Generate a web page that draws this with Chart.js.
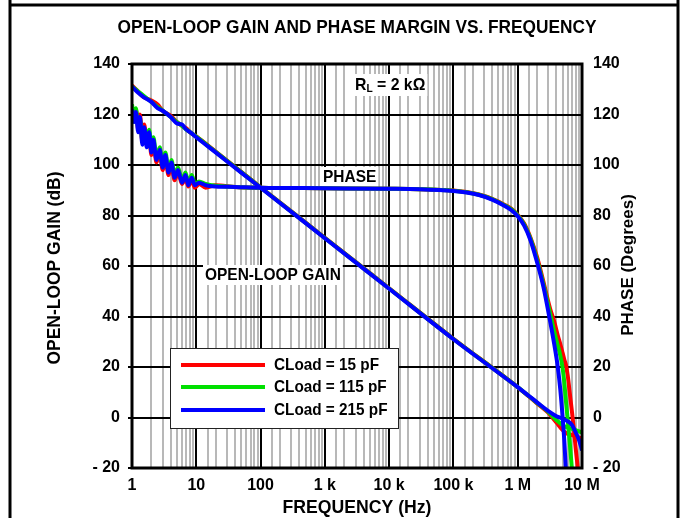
<!DOCTYPE html>
<html>
<head>
<meta charset="utf-8">
<script src="https://cdn.jsdelivr.net/npm/chart.js@4.4.1/dist/chart.umd.min.js"></script>
<style>
  html, body { margin: 0; padding: 0; background: #fff; }
  canvas { display: block; }
</style>
</head>
<body>
<canvas id="gainChart" width="685" height="518"></canvas>
<script>
// ---- DATA ----
const seriesLabels = ['CLoad = 15 pF', 'CLoad = 115 pF', 'CLoad = 215 pF'];
const seriesColors = ['#ff0000', '#00e000', '#0000ff'];

const xTickLabels = ['1', '10', '100', '1 k', '10 k', '100 k', '1 M', '10 M'];
const yTickValues = [-20, 0, 20, 40, 60, 80, 100, 120, 140];

// open-loop gain (dB)
const gainFreq = [1, 1.2, 1.5, 2, 2.5, 3, 4, 5, 6, 7, 8, 10, 20, 50, 100, 1e3, 1e4, 1e5, 1e6,
                  1.5e6, 2e6, 3e6, 4e6, 5e6, 6e6, 7e6, 8e6, 9e6, 1e7];
const gain15 = [131.5, 129.5, 127, 125.5, 124, 121.5, 119.5, 117, 115.5, 114.5, 113, 111.3, 105.3, 97.3, 91.2, 71.2, 51.2, 31.2, 12,
                8.3, 5.6, 1.8, -2, -5, -6.5, -7, -7.5, -8, -8.5];
const gain115 = [131, 129.5, 127.5, 125, 123, 121.5, 119, 117, 115.5, 114, 113, 111.2, 105.2, 97.2, 91.1, 71.1, 51.1, 31.1, 12,
                 8.4, 5.8, 2.2, -1, -3, -4, -4.5, -5, -5.5, -6];
const gain215 = [131, 129, 127, 125, 122.5, 121.5, 119, 116.5, 116, 114, 113, 111, 105, 97, 91, 71, 51, 31, 12,
                 8.5, 6, 2.5, 0.5, -0.5, -1.5, -3, -6, -9, -13];

// phase (degrees)
const phaseFreq = [1, 1.08, 1.15, 1.25, 1.33, 1.45, 1.55, 1.7, 1.85, 2, 2.15, 2.4, 2.7, 3, 3.3, 3.7, 4.1, 4.6, 5.2, 6,
                   6.8, 7.5, 8.5, 9.5, 11, 14, 20, 40, 100, 1e3, 1e4, 3e4, 1e5, 1.6e5, 2.5e5, 4e5, 6.3e5, 8e5, 1e6,
                   1.26e6, 1.58e6, 2e6, 2.5e6, 3.2e6, 3.7e6, 4.2e6, 4.6e6, 5e6, 5.3e6, 5.6e6, 6e6, 6.5e6, 7e6,
                   7.5e6, 8e6, 8.6e6, 9.2e6, 1e7];
const phase15 = [123, 119, 122, 114, 120, 109, 116, 108, 112, 104, 109, 101, 105, 98, 103, 96, 100, 94, 97, 92.5,
                 95, 91.5, 94, 91, 92.5, 91, 92, 91.3, 91, 90.8, 90.6, 90.4, 89.9, 89.3, 88.3, 86.6, 84.2, 82.6, 80.3,
                 76.8, 71.2, 63.5, 54, 43, 38, 32.5, 29, 25.5, 23, 21, 16.5, 9, 2, -5, -12.5, -20, -28, -40];
const phase115 = [124, 118, 122.5, 115, 118, 110, 114, 109, 114, 106, 111, 103, 107, 100, 105, 98, 102, 96, 99, 94,
                  97, 93, 96, 92.5, 93.5, 92.5, 91.8, 91.3, 91, 90.8, 90.6, 90.4, 89.8, 89.2, 88.2, 86.5, 84, 82.4, 80,
                  76.5, 70.8, 62.5, 53, 41, 34, 28.5, 24.5, 19.5, 14, 7, -1, -11, -21, -31, -42, -55, -70, -90];
const phase215 = [122, 117, 121, 113, 119, 108, 115, 107, 113, 105, 110, 102, 106, 99, 104, 97, 101, 95, 98, 93,
                  96, 92, 95, 92, 93, 92, 91.5, 91.3, 91, 90.8, 90.6, 90.4, 89.7, 89.1, 88.1, 86.3, 83.8, 82.1, 79.7,
                  76, 70.2, 61.5, 52, 38, 29, 20, 11, 0, -9, -20, -32, -45, -58, -70, -80, -90, -100, -110];

const gainSets = [gain15, gain115, gain215];
const phaseSets = [phase15, phase115, phase215];

// ---- STYLE ----
const FONT = "'Liberation Sans', Arial, sans-serif";
const BOLD = (size) => `bold ${size}px ${FONT}`;

const isDecade = (v) => {
    const e = Math.log10(v);
    return Math.abs(e - Math.round(e)) < 1e-6;
};

const toPoints = (xs, ys) => xs.map((x, i) => ({ x: x, y: ys[i] }));

const datasets = [];
gainSets.forEach((vals, i) => {
    datasets.push({
        label: seriesLabels[i],
        data: toPoints(gainFreq, vals),
        borderColor: seriesColors[i],
        borderWidth: 4,
        pointRadius: 0,
        cubicInterpolationMode: 'monotone',
        yAxisID: 'y',
        order: 3 - i
    });
});
phaseSets.forEach((vals, i) => {
    datasets.push({
        label: seriesLabels[i] + ' phase',
        data: toPoints(phaseFreq, vals),
        borderColor: seriesColors[i],
        borderWidth: 4,
        pointRadius: 0,
        cubicInterpolationMode: 'monotone',
        yAxisID: 'y2',
        order: 3 - i
    });
});

// narrow-ish bold text: Arial Narrow is not installed, so squeeze Liberation Sans
function narrowText(c, text, x, y, size, align, sx, angle) {
    c.save();
    c.translate(x, y);
    if (angle) c.rotate(angle);
    c.scale(sx, 1);
    c.font = BOLD(size);
    c.textAlign = align;
    c.textBaseline = 'middle';
    c.fillText(text, 0, 0);
    c.restore();
}

function textWidth(c, text, size, sx) {
    c.save();
    c.font = BOLD(size);
    const w = c.measureText(text).width * sx;
    c.restore();
    return w;
}

// texts, frame, legend drawn straight onto the canvas
const decorations = {
    id: 'decorations',
    beforeDraw(chart) {
        const c = chart.ctx;
        c.save();
        c.fillStyle = '#fff';
        c.fillRect(0, 0, chart.width, chart.height);
        c.strokeStyle = '#000';
        c.lineWidth = 3;
        c.beginPath();
        c.moveTo(10, 0); c.lineTo(10, chart.height);
        c.moveTo(678, 0); c.lineTo(678, chart.height);
        c.moveTo(10, 5); c.lineTo(678, 5);
        c.stroke();

        c.fillStyle = '#000';
        narrowText(c, 'OPEN-LOOP GAIN AND PHASE MARGIN VS. FREQUENCY', 357, 28, 18, 'center', 0.96);
        narrowText(c, 'FREQUENCY (Hz)', 357, 508, 18, 'center', 0.98);
        narrowText(c, 'OPEN-LOOP GAIN (dB)', 55, 268, 18, 'center', 0.97, -Math.PI / 2);
        narrowText(c, 'PHASE (Degrees)', 628, 265, 17, 'center', 1, -Math.PI / 2);
        c.restore();
    },
    beforeDatasetsDraw(chart) {
        const c = chart.ctx;
        c.save();
        const label = (text, x, y) => {
            const w = textWidth(c, text, 17, 0.91);
            c.fillStyle = '#fff';
            c.fillRect(x - 2, y - 10, w + 4, 20);
            c.fillStyle = '#000';
            narrowText(c, text, x, y, 17, 'left', 0.91);
        };
        label('PHASE', 323, 177);
        label('OPEN-LOOP GAIN', 205, 275);

        // R_L = 2 kOhm with subscript
        const sx = 0.93;
        const rest = ' = 2 k\u03A9';
        const wR = textWidth(c, 'R', 17, sx);
        const wL = textWidth(c, 'L', 11, sx);
        const wRest = textWidth(c, rest, 17, sx);
        c.fillStyle = '#fff';
        c.fillRect(353, 74, wR + wL + wRest + 4, 22);
        c.fillStyle = '#000';
        narrowText(c, 'R', 355, 85, 17, 'left', sx);
        narrowText(c, 'L', 355 + wR, 89, 11, 'left', sx);
        narrowText(c, rest, 355 + wR + wL, 85, 17, 'left', sx);
        c.restore();
    },
    afterDatasetsDraw(chart) {
        const c = chart.ctx;
        const a = chart.chartArea;
        c.save();
        // plot frame
        c.strokeStyle = '#000';
        c.lineWidth = 3;
        c.strokeRect(a.left, a.top, a.right - a.left, a.bottom - a.top);

        // legend
        c.fillStyle = '#fff';
        c.fillRect(170, 348, 228, 80);
        c.strokeStyle = '#222';
        c.lineWidth = 1;
        c.strokeRect(170.5, 348.5, 228, 80);
        [365, 387, 410].forEach((y, i) => {
            c.strokeStyle = seriesColors[i];
            c.lineWidth = 4;
            c.beginPath();
            c.moveTo(181, y);
            c.lineTo(265, y);
            c.stroke();
            c.fillStyle = '#000';
            narrowText(c, seriesLabels[i], 274, y, 17, 'left', 0.9);
        });
        c.restore();
    }
};

const yTickLabel = (v) => (v < 0 ? '- ' + Math.abs(v) : String(v));

new Chart(document.getElementById('gainChart'), {
    type: 'line',
    data: { datasets: datasets },
    options: {
        responsive: false,
        animation: false,
        layout: { padding: { top: 64, left: 0, right: 0, bottom: 0 } },
        plugins: {
            legend: { display: false },
            tooltip: { enabled: false },
            title: { display: false }
        },
        scales: {
            x: {
                type: 'logarithmic',
                min: 1,
                max: 1e7,
                afterFit: (s) => { s.height = 50; },
                grid: {
                    drawTicks: false,
                    color: (ctx) => (ctx.tick && isDecade(ctx.tick.value) ? '#000' : '#b8b8b8'),
                    lineWidth: 2
                },
                border: { display: false },
                ticks: {
                    autoSkip: false,
                    maxRotation: 0,
                    padding: 8,
                    color: '#000',
                    font: { family: FONT, weight: 'bold', size: 16 },
                    callback: (v) => (isDecade(v) ? xTickLabels[Math.round(Math.log10(v))] : '')
                }
            },
            y: {
                position: 'left',
                min: yTickValues[0],
                max: yTickValues[yTickValues.length - 1],
                afterFit: (s) => { s.width = 132; },
                grid: { color: '#000', lineWidth: 2, tickLength: 4 },
                border: { display: false },
                ticks: {
                    stepSize: 20,
                    padding: 8,
                    color: '#000',
                    font: { family: FONT, weight: 'bold', size: 16 },
                    callback: yTickLabel
                }
            },
            y2: {
                position: 'right',
                min: yTickValues[0],
                max: yTickValues[yTickValues.length - 1],
                afterFit: (s) => { s.width = 103; },
                grid: { drawOnChartArea: false, drawTicks: false },
                border: { display: false },
                ticks: {
                    stepSize: 20,
                    padding: 11,
                    color: '#000',
                    font: { family: FONT, weight: 'bold', size: 16 },
                    callback: yTickLabel
                }
            }
        }
    },
    plugins: [decorations]
});
</script>
</body>
</html>
